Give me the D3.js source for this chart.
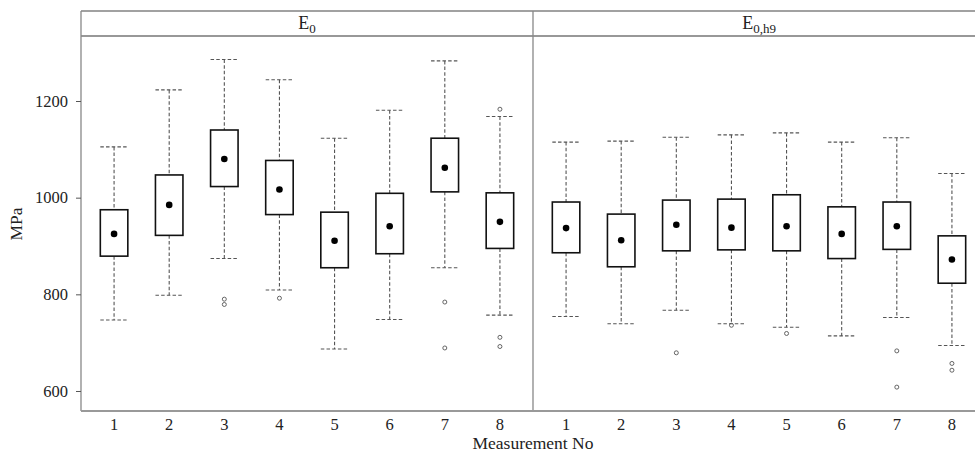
<!DOCTYPE html>
<html>
<head>
<meta charset="utf-8">
<script src="https://cdn.jsdelivr.net/npm/d3@7"></script>
<style>
  body { margin: 0; background: #fff; }
  svg text { font-family: "Liberation Serif", "DejaVu Serif", serif; fill: #222; }
</style>
</head>
<body>
<svg id="chart" width="975" height="456"></svg>
<script>
// measurement numbers on the x axis
const measurements = ["1","2","3","4","5","6","7","8"]
const panels = ["E0", "E0,h9"]

// E0 panel: whiskers, hinges, median (dot) and outliers, in MPa
const e0Low    = [747, 798, 874, 809, 687, 748, 855, 757]
const e0Q1     = [879, 922, 1023, 965, 855, 884, 1012, 895]
const e0Median = [925, 985, 1080, 1017, 911, 941, 1062, 950]
const e0Q3     = [975, 1047, 1140, 1077, 970, 1009, 1123, 1010]
const e0High   = [1105, 1223, 1286, 1244, 1123, 1181, 1283, 1168]
const e0Out    = [[], [], [790, 779], [792], [], [], [784, 689], [1183, 711, 692]]

// E0,h9 panel
const h9Low    = [754, 739, 767, 739, 732, 714, 752, 694]
const h9Q1     = [886, 857, 890, 892, 890, 874, 893, 823]
const h9Median = [937, 912, 944, 938, 941, 925, 941, 872]
const h9Q3     = [991, 966, 995, 997, 1006, 981, 991, 921]
const h9High   = [1115, 1117, 1125, 1130, 1134, 1115, 1124, 1050]
const h9Out    = [[], [], [679], [736], [719], [], [683, 608], [657, 643]]

const yTicks = [600, 800, 1000, 1200]

const buildRows = (low, q1, med, q3, high, out) =>
  measurements.map((m, i) => ({ m, low: low[i], q1: q1[i], med: med[i], q3: q3[i], high: high[i], out: out[i] }))

const panelData = [
  buildRows(e0Low, e0Q1, e0Median, e0Q3, e0High, e0Out),
  buildRows(h9Low, h9Q1, h9Median, h9Q3, h9High, h9Out)
]

const svg = d3.select("#chart")
const marginL = 81, stripTop = 11, stripH = 25, plotBottom = 411, panelW = 452
const plotTop = stripTop + stripH
const serif = '"Liberation Serif", "DejaVu Serif", serif'

const y = d3.scaleLinear().domain([558.6, 1334.5]).range([plotBottom, plotTop])
const x = d3.scalePoint().domain(measurements).range([0, panelW]).padding(0.6)
const boxW = 27.5

panelData.forEach((rows, p) => {
  const g = svg.append("g").attr("transform", `translate(${marginL + p * panelW},0)`)

  // strip
  g.append("line").attr("x1", 0).attr("x2", panelW).attr("y1", stripTop).attr("y2", stripTop)
    .attr("stroke", "#444").attr("stroke-width", 1.2)
  g.append("line").attr("x1", 0).attr("x2", panelW).attr("y1", plotTop).attr("y2", plotTop)
    .attr("stroke", "#333").attr("stroke-width", 1.2)
  const lab = g.append("text").attr("x", panelW / 2).attr("y", stripTop + 18)
    .attr("text-anchor", "middle").style("font-size", "18px")
  lab.append("tspan").text("E")
  lab.append("tspan").attr("dy", 4).style("font-size", "13px").text(p == 0 ? "0" : "0,h9")

  // whiskers (dashed)
  const dash = "3.5,2.2"
  const wh = g.append("g").attr("stroke", "#555").attr("stroke-width", 1.1).attr("stroke-dasharray", dash)
  rows.forEach(d => {
    const cx = x(d.m)
    wh.append("line").attr("x1", cx).attr("x2", cx).attr("y1", y(d.high)).attr("y2", y(d.q3))
    wh.append("line").attr("x1", cx).attr("x2", cx).attr("y1", y(d.q1)).attr("y2", y(d.low))
    wh.append("line").attr("x1", cx - boxW / 2).attr("x2", cx + boxW / 2).attr("y1", y(d.high)).attr("y2", y(d.high))
    wh.append("line").attr("x1", cx - boxW / 2).attr("x2", cx + boxW / 2).attr("y1", y(d.low)).attr("y2", y(d.low))
  })

  // boxes
  g.append("g").selectAll("rect")
    .data(rows)
    .join("rect")
    .attr("x", d => x(d.m) - boxW / 2)
    .attr("width", boxW)
    .attr("y", d => y(d.q3))
    .attr("height", d => y(d.q1) - y(d.q3))
    .attr("fill", "#fff")
    .attr("stroke", "#111")
    .attr("stroke-width", 1.6)

  // median dots
  g.append("g").selectAll("circle")
    .data(rows)
    .join("circle")
    .attr("cx", d => x(d.m))
    .attr("cy", d => y(d.med))
    .attr("r", 3.3)
    .attr("fill", "#000")

  // outliers
  g.append("g").selectAll("circle")
    .data(rows.flatMap(d => d.out.map(v => ({ m: d.m, v }))))
    .join("circle")
    .attr("cx", d => x(d.m))
    .attr("cy", d => y(d.v))
    .attr("r", 2)
    .attr("fill", "none")
    .attr("stroke", "#555")
    .attr("stroke-width", 0.9)

  // x tick labels
  g.append("g").selectAll("text")
    .data(measurements)
    .join("text")
    .attr("x", d => x(d))
    .attr("y", plotBottom + 19)
    .attr("text-anchor", "middle")
    .style("font-size", "16.5px")
    .text(d => d)

  // panel divider / left frame
  g.append("line").attr("x1", 0).attr("x2", 0).attr("y1", stripTop).attr("y2", plotBottom)
    .attr("stroke", "#888").attr("stroke-width", 1.3)
})

// bottom axis line
svg.append("line").attr("x1", marginL).attr("x2", 975).attr("y1", plotBottom).attr("y2", plotBottom)
  .attr("stroke", "#999").attr("stroke-width", 2)

// y axis
const yAxis = svg.append("g").attr("transform", `translate(${marginL},0)`)
  .call(d3.axisLeft(y).tickValues(yTicks).tickFormat(d3.format("d")).tickSize(5).tickPadding(8))
yAxis.select(".domain").remove()
yAxis.selectAll(".tick line").attr("stroke", "#555")
yAxis.selectAll(".tick text").style("font-size", "16.5px").style("font-family", serif).attr("fill", "#222")

// axis titles
svg.append("text").attr("x", 533).attr("y", 449).attr("text-anchor", "middle")
  .style("font-size", "17.5px").text("Measurement No")
svg.append("text").attr("transform", "translate(22,224) rotate(-90)").attr("text-anchor", "middle")
  .style("font-size", "17.5px").text("MPa")
</script>
</body>
</html>
